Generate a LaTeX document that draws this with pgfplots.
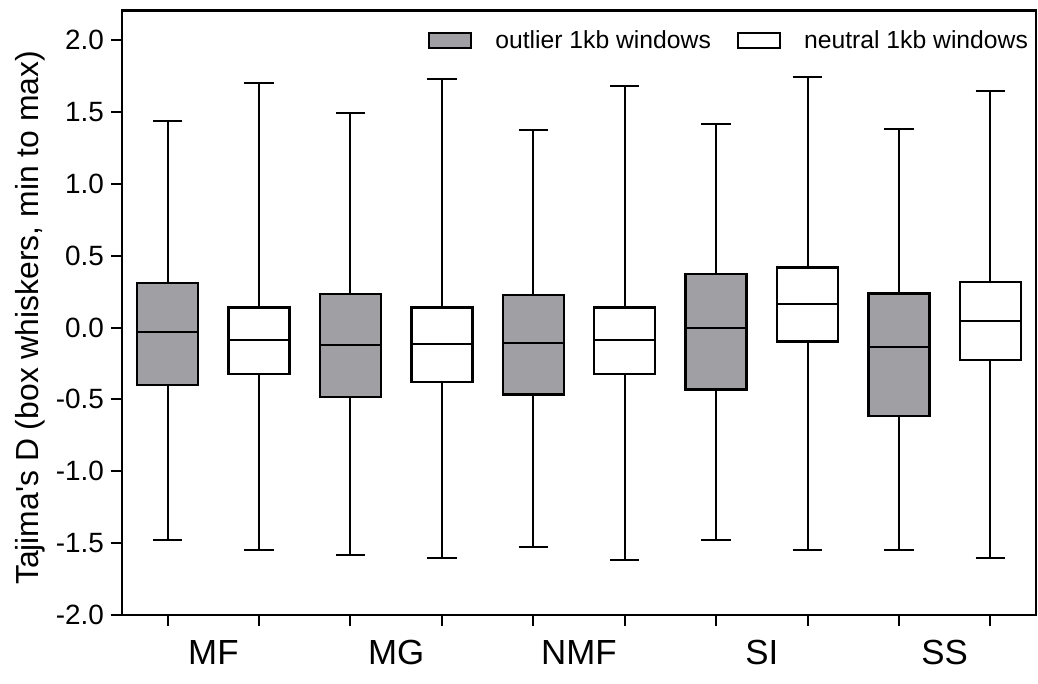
\documentclass[border=0pt]{standalone}
\usepackage{fontspec}
\setmainfont{Liberation Sans}
\usepackage{pgfplots}
\pgfplotsset{compat=1.18}
\usepgfplotslibrary{statistics}
\definecolor{boxgray}{RGB}{160,159,164}
\begin{document}
\begin{tikzpicture}
\begin{axis}[
  at={(0,0)}, anchor=south west,
  scale only axis, width=457bp, height=302.3bp,
  xmin=-0.5, xmax=9.5, ymin=-2, ymax=2.206,
  axis line style={line width=1.2bp},
  tick align=outside, xtick pos=bottom, ytick pos=left,
  xtick={0,...,9}, xticklabels={},
  major tick length=5.5bp,
  every tick/.append style={black, line width=1bp},
  extra x ticks={0.5,2.5,4.5,6.5,8.5},
  extra x tick labels={MF,MG,NMF,SI,SS},
  extra x tick style={major tick length=0pt, tick label style={font=\fontsize{17.5}{20}\selectfont, yshift=-9bp}},
  ytick={-2,-1.5,-1,-0.5,0,0.5,1,1.5,2},
  yticklabels={-2.0,-1.5,-1.0,-0.5,0.0,0.5,1.0,1.5,2.0},
  yticklabel style={font=\fontsize{14}{16}\selectfont},
  ylabel={Tajima\textquotesingle s D (box whiskers, min to max)},
  ylabel style={at={(axis description cs:-0.1007,0.4914)}, anchor=center, font=\fontsize{16}{18}\selectfont},
  boxplot/draw direction=y,
  boxplot/every box/.style={line width=1.25bp},
  boxplot/every whisker/.style={line width=1bp},
  boxplot/every median/.style={line width=1bp},
  legend style={draw=none, fill=none, at={(axis description cs:0.996,0.950)}, anchor=east,
    legend columns=2, font=\fontsize{12.4}{14}\selectfont, inner sep=0pt,
    /tikz/every odd column/.append style={column sep=9.5bp},
    /tikz/every even column/.append style={column sep=11bp}},
  legend image code/.code={\draw[#1, line width=1.1bp] (0bp,-3.75bp) rectangle (21bp,3.75bp);},
]
\addlegendimage{fill=boxgray, draw=black}
\addlegendentry{outlier 1kb windows}
\addlegendimage{fill=white, draw=black}
\addlegendentry{neutral 1kb windows}

% MF
\addplot[draw=black, fill=boxgray, forget plot, boxplot prepared={draw position=0, median=-0.03, upper quartile=0.31, lower quartile=-0.40, upper whisker=1.44, lower whisker=-1.48, box extend=0.668, whisker extend=0.32}] coordinates {};
\addplot[draw=black, fill=white, forget plot, boxplot prepared={draw position=1, median=-0.085, upper quartile=0.138, lower quartile=-0.323, upper whisker=1.70, lower whisker=-1.55, box extend=0.668, whisker extend=0.32}] coordinates {};
% MG
\addplot[draw=black, fill=boxgray, forget plot, boxplot prepared={draw position=2, median=-0.12, upper quartile=0.233, lower quartile=-0.482, upper whisker=1.49, lower whisker=-1.58, box extend=0.668, whisker extend=0.32}] coordinates {};
\addplot[draw=black, fill=white, forget plot, boxplot prepared={draw position=3, median=-0.115, upper quartile=0.14, lower quartile=-0.38, upper whisker=1.73, lower whisker=-1.60, box extend=0.668, whisker extend=0.32}] coordinates {};
% NMF
\addplot[draw=black, fill=boxgray, forget plot, boxplot prepared={draw position=4, median=-0.105, upper quartile=0.225, lower quartile=-0.465, upper whisker=1.375, lower whisker=-1.53, box extend=0.668, whisker extend=0.32}] coordinates {};
\addplot[draw=black, fill=white, forget plot, boxplot prepared={draw position=5, median=-0.088, upper quartile=0.138, lower quartile=-0.322, upper whisker=1.68, lower whisker=-1.62, box extend=0.668, whisker extend=0.32}] coordinates {};
% SI
\addplot[draw=black, fill=boxgray, forget plot, boxplot prepared={draw position=6, median=0.0, upper quartile=0.372, lower quartile=-0.433, upper whisker=1.415, lower whisker=-1.48, box extend=0.668, whisker extend=0.32}] coordinates {};
\addplot[draw=black, fill=white, forget plot, boxplot prepared={draw position=7, median=0.166, upper quartile=0.419, lower quartile=-0.098, upper whisker=1.745, lower whisker=-1.55, box extend=0.668, whisker extend=0.32}] coordinates {};
% SS
\addplot[draw=black, fill=boxgray, forget plot, boxplot prepared={draw position=8, median=-0.137, upper quartile=0.237, lower quartile=-0.615, upper whisker=1.38, lower whisker=-1.545, box extend=0.668, whisker extend=0.32}] coordinates {};
\addplot[draw=black, fill=white, forget plot, boxplot prepared={draw position=9, median=0.048, upper quartile=0.316, lower quartile=-0.226, upper whisker=1.645, lower whisker=-1.60, box extend=0.668, whisker extend=0.32}] coordinates {};
\end{axis}
\pgfresetboundingbox
\path[use as bounding box] (-61bp,-34.5bp) rectangle (458bp,307.5bp);
\end{tikzpicture}
\end{document}
